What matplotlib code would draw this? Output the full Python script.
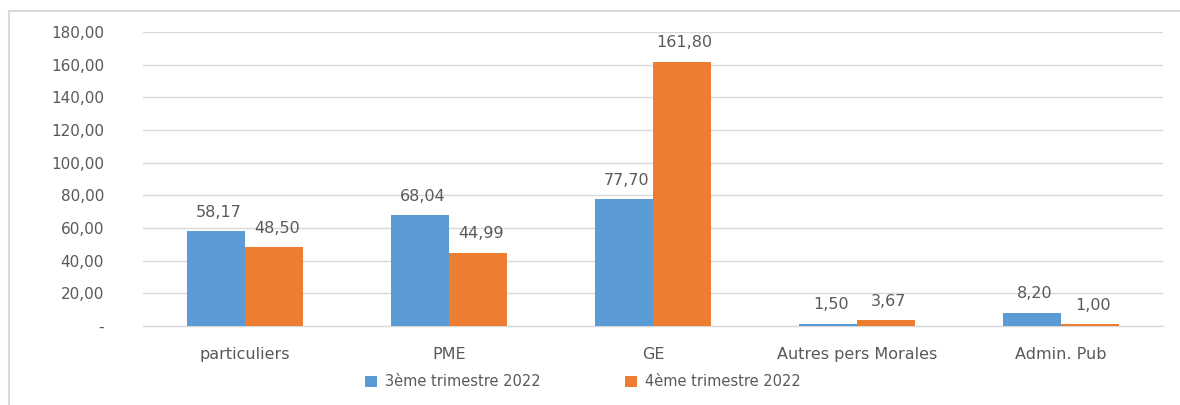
import matplotlib
matplotlib.use("Agg")
import matplotlib.pyplot as plt
from matplotlib.patches import Rectangle
from matplotlib.ticker import FuncFormatter, MultipleLocator
import numpy as np

categories = ["particuliers", "PME", "GE", "Autres pers Morales", "Admin. Pub"]
series_names = ["3ème trimestre 2022", "4ème trimestre 2022"]
q3_values = [58.17, 68.04, 77.70, 1.50, 8.20]
q4_values = [48.50, 44.99, 161.80, 3.67, 1.00]

BLUE = "#5B9BD5"
ORANGE = "#ED7D31"
TEXT = "#595959"
GRID = "#D9D9D9"

plt.rcParams["font.family"] = ["DejaVu Sans"]

W, H = 1180, 405
fig = plt.figure(figsize=(W / 100, H / 100), dpi=100)
ax = fig.add_axes([143 / W, 79 / H, (1163 - 143) / W, (326 - 32) / H])

x = np.arange(len(categories))
bw = 0.284
b1 = ax.bar(x - bw / 2, q3_values, bw, color=BLUE, label=series_names[0], zorder=3)
b2 = ax.bar(x + bw / 2, q4_values, bw, color=ORANGE, label=series_names[1], zorder=3)

def fmt(v):
    return f"{v:.2f}".replace(".", ",")

for bars, vals in ((b1, q3_values), (b2, q4_values)):
    for rect, v in zip(bars, vals):
        ax.annotate(fmt(v), (rect.get_x() + rect.get_width() / 2, rect.get_height()),
                    xytext=(2, 13.5), textcoords="offset points",
                    ha="center", va="center", fontsize=11.5, color=TEXT, zorder=4)

ax.set_xlim(-0.5, len(categories) - 0.5)
ax.set_ylim(0, 180)
ax.yaxis.set_major_locator(MultipleLocator(20))
ax.yaxis.set_major_formatter(FuncFormatter(lambda v, p: "-" if abs(v) < 1e-9 else fmt(v)))
ax.set_xticks(x)
ax.set_xticklabels(categories)
ax.tick_params(axis="y", length=0, pad=28, labelsize=11, labelcolor=TEXT)
ax.tick_params(axis="x", length=0, pad=15, labelsize=11.5, labelcolor=TEXT)
ax.grid(axis="y", color=GRID, linewidth=1, zorder=0)
for s in ("top", "right", "left"):
    ax.spines[s].set_visible(False)
ax.spines["bottom"].set_color(GRID)
ax.spines["bottom"].set_linewidth(1)
ax.spines["bottom"].set_zorder(2)

leg = fig.legend(handles=[b1, b2], labels=series_names, loc="center",
                 bbox_to_anchor=(583 / W, 1 - 382 / H), ncol=2, frameon=False,
                 fontsize=10.5, handlelength=0.8, handleheight=0.8,
                 handletextpad=0.55, columnspacing=5.8, labelcolor=TEXT)

fig.patches.append(Rectangle((9 / W, -0.05), 1.1, (H - 11) / H + 0.05,
                             transform=fig.transFigure, fill=False,
                             edgecolor=GRID, linewidth=1.5, zorder=0))

fig.savefig("out.png", dpi=100, facecolor="white")
